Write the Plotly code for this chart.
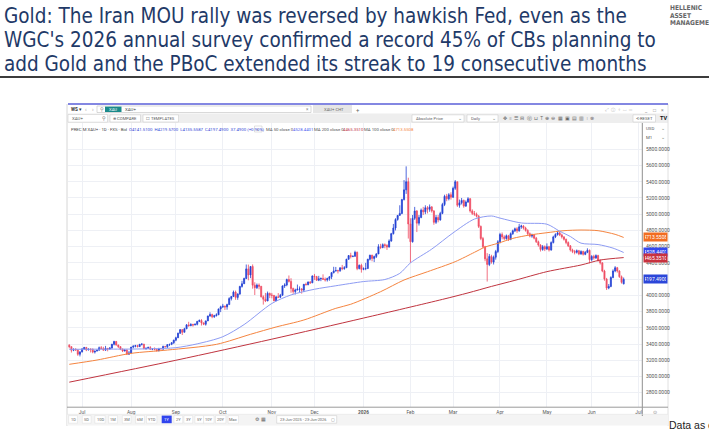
import plotly.graph_objects as go
import pandas as pd

W, H = 709, 433

# ---------------- data ----------------
dates = [d.strftime("%Y-%m-%d") for d in pd.bdate_range("2025-06-23", "2026-06-22")]
axis_dates = [d.strftime("%Y-%m-%d") for d in pd.bdate_range("2025-06-23", "2026-07-03")]

first_open = 3385.0
open_overrides = {"2026-06-22": 4141.51}

close_jun25 = [3368, 3323, 3332, 3328, 3274, 3303]
high_jun25 = [3398, 3370, 3348, 3350, 3330, 3310]
low_jun25 = [3347, 3295, 3312, 3315, 3255, 3247]

close_jul25 = [3338, 3357, 3326, 3337, 3336, 3301, 3313, 3324, 3355, 3343, 3324, 3347, 3339, 3350, 3397, 3431, 3387, 3368, 3337, 3314, 3326, 3274, 3290]
high_jul25 = [3350, 3365, 3365, 3345, 3343, 3345, 3317, 3330, 3369, 3375, 3366, 3377, 3346, 3361, 3402, 3440, 3438, 3393, 3373, 3345, 3334, 3334, 3315]
low_jul25 = [3296, 3328, 3312, 3323, 3296, 3286, 3283, 3310, 3321, 3341, 3320, 3319, 3310, 3331, 3345, 3383, 3382, 3351, 3325, 3301, 3309, 3268, 3268]

close_aug25 = [3363, 3373, 3380, 3368, 3397, 3398, 3341, 3348, 3356, 3335, 3336, 3332, 3315, 3347, 3339, 3371, 3365, 3393, 3397, 3416, 3448]
high_aug25 = [3363, 3385, 3390, 3391, 3398, 3410, 3402, 3356, 3369, 3374, 3345, 3358, 3336, 3351, 3351, 3379, 3376, 3393, 3398, 3423, 3453]
low_aug25 = [3281, 3347, 3359, 3359, 3368, 3382, 3341, 3332, 3346, 3331, 3324, 3323, 3311, 3312, 3335, 3321, 3360, 3351, 3375, 3386, 3401]

close_sep25 = [3477, 3533, 3578, 3545, 3587, 3636, 3626, 3641, 3634, 3643, 3679, 3690, 3660, 3644, 3685, 3746, 3763, 3736, 3749, 3760, 3833, 3858]
high_sep25 = [3490, 3540, 3578, 3563, 3600, 3646, 3674, 3657, 3650, 3655, 3685, 3703, 3707, 3667, 3688, 3749, 3791, 3774, 3760, 3779, 3835, 3872]
low_sep25 = [3435, 3475, 3525, 3511, 3545, 3587, 3614, 3620, 3614, 3633, 3630, 3670, 3628, 3633, 3627, 3686, 3736, 3718, 3722, 3740, 3758, 3793]

close_oct25 = [3866, 3857, 3886, 3960, 3985, 4040, 3975, 4018, 4110, 4143, 4208, 4326, 4251, 4356, 4125, 4095, 4126, 4112, 3982, 3952, 3930, 4025, 4002]
high_oct25 = [3895, 3875, 3897, 3977, 3991, 4059, 4059, 4022, 4117, 4179, 4218, 4380, 4379, 4359, 4381, 4161, 4146, 4147, 4114, 4000, 4030, 4047, 4033]
low_oct25 = [3844, 3820, 3823, 3885, 3937, 3980, 3945, 3945, 4005, 4095, 4141, 4200, 4185, 4212, 4082, 4004, 4078, 4074, 3974, 3886, 3917, 3935, 3966]

close_nov25 = [4000, 3932, 3980, 3977, 4001, 4116, 4128, 4195, 4172, 4084, 4046, 4066, 4078, 4078, 4065, 4136, 4131, 4165, 4155, 4239]
high_nov25 = [4030, 4001, 3994, 4028, 4018, 4122, 4149, 4206, 4245, 4211, 4095, 4082, 4133, 4110, 4090, 4140, 4157, 4170, 4175, 4245]
low_nov25 = [3963, 3929, 3931, 3970, 3967, 3996, 4091, 4112, 4158, 4032, 4019, 4011, 4061, 4039, 4021, 4040, 4123, 4125, 4140, 4150]

close_dec25 = [4231, 4186, 4204, 4208, 4198, 4190, 4208, 4228, 4280, 4300, 4305, 4303, 4339, 4330, 4340, 4445, 4490, 4480, 4482, 4530, 4330, 4370, 4320]
high_dec25 = [4264, 4240, 4240, 4220, 4259, 4220, 4218, 4237, 4285, 4352, 4350, 4316, 4345, 4375, 4360, 4450, 4497, 4525, 4490, 4550, 4540, 4380, 4390]
low_dec25 = [4190, 4180, 4175, 4175, 4190, 4170, 4170, 4180, 4200, 4270, 4295, 4270, 4290, 4310, 4315, 4340, 4440, 4455, 4470, 4475, 4310, 4320, 4280]

close_jan26 = [4330, 4330, 4445, 4495, 4455, 4478, 4510, 4600, 4590, 4625, 4615, 4595, 4670, 4760, 4830, 4935, 4985, 5010, 5180, 5300, 5400, 4880]
high_jan26 = [4345, 4400, 4450, 4500, 4500, 4490, 4520, 4630, 4635, 4640, 4640, 4630, 4690, 4770, 4880, 4950, 4990, 5110, 5190, 5420, 5590, 5450]
low_jan26 = [4310, 4310, 4330, 4430, 4420, 4410, 4460, 4510, 4570, 4580, 4580, 4560, 4590, 4660, 4750, 4800, 4920, 4990, 5000, 5170, 5250, 4700]

close_feb26 = [4660, 4950, 5040, 4890, 4960, 5050, 5030, 5080, 5060, 5090, 5040, 4900, 4960, 4930, 5010, 5120, 5220, 5190, 5240, 5210]
high_feb26 = [4950, 4990, 5090, 5050, 4990, 5070, 5090, 5110, 5100, 5120, 5100, 5050, 4990, 4990, 5030, 5140, 5240, 5250, 5260, 5270]
low_feb26 = [4400, 4650, 4930, 4780, 4860, 4950, 4990, 5000, 5010, 5030, 5020, 4870, 4880, 4900, 4920, 5000, 5100, 5160, 5170, 5180]

close_mar26 = [5320, 5400, 5110, 5140, 5170, 5100, 5150, 5190, 5040, 5010, 5000, 4975, 4850, 4700, 4600, 4450, 4380, 4480, 4410, 4470, 4540, 4660]
high_mar26 = [5340, 5421, 5400, 5180, 5200, 5180, 5170, 5210, 5200, 5060, 5040, 5020, 4990, 4860, 4720, 4610, 4520, 4510, 4500, 4490, 4560, 4680]
low_mar26 = [5200, 5300, 5090, 5080, 5120, 5080, 5090, 5140, 5020, 4990, 4980, 4960, 4830, 4680, 4580, 4420, 4170, 4360, 4390, 4380, 4440, 4520]

close_apr26 = [4750, 4720, 4700, 4735, 4690, 4760, 4795, 4820, 4795, 4845, 4855, 4830, 4800, 4760, 4730, 4745, 4705, 4660, 4620, 4565, 4600, 4570]
high_apr26 = [4770, 4775, 4740, 4750, 4745, 4775, 4810, 4835, 4840, 4880, 4870, 4865, 4845, 4815, 4775, 4760, 4755, 4720, 4675, 4630, 4620, 4615]
low_apr26 = [4640, 4690, 4680, 4685, 4670, 4680, 4745, 4780, 4770, 4785, 4820, 4810, 4785, 4740, 4715, 4710, 4690, 4645, 4600, 4540, 4550, 4545]

close_may26 = [4600, 4560, 4650, 4720, 4750, 4770, 4745, 4720, 4690, 4650, 4610, 4560, 4540, 4530, 4550, 4510, 4540, 4505, 4530, 4555, 4440]
high_may26 = [4640, 4610, 4665, 4735, 4765, 4795, 4785, 4760, 4730, 4700, 4665, 4620, 4575, 4560, 4565, 4560, 4555, 4550, 4545, 4580, 4565]
low_may26 = [4560, 4540, 4550, 4640, 4705, 4735, 4730, 4700, 4675, 4630, 4595, 4540, 4520, 4505, 4515, 4495, 4500, 4490, 4495, 4520, 4395]

close_jun26 = [4480, 4460, 4490, 4430, 4400, 4300, 4200, 4090, 4110, 4220, 4300, 4340, 4300, 4230, 4160, 4197.49]
high_jun26 = [4495, 4500, 4505, 4500, 4445, 4410, 4315, 4215, 4140, 4235, 4320, 4360, 4350, 4310, 4245, 4219.57]
low_jun26 = [4420, 4440, 4450, 4415, 4380, 4285, 4180, 4066, 4075, 4100, 4210, 4285, 4280, 4215, 4145, 4135.56]

closes = (close_jun25 + close_jul25 + close_aug25 + close_sep25 + close_oct25 + close_nov25 + close_dec25
          + close_jan26 + close_feb26 + close_mar26 + close_apr26 + close_may26 + close_jun26)
highs_raw = (high_jun25 + high_jul25 + high_aug25 + high_sep25 + high_oct25 + high_nov25 + high_dec25
             + high_jan26 + high_feb26 + high_mar26 + high_apr26 + high_may26 + high_jun26)
lows_raw = (low_jun25 + low_jul25 + low_aug25 + low_sep25 + low_oct25 + low_nov25 + low_dec25
            + low_jan26 + low_feb26 + low_mar26 + low_apr26 + low_may26 + low_jun26)

# moving averages
ma50_dates = ["2025-06-23", "2025-07-15", "2025-08-01", "2025-08-15", "2025-09-01", "2025-09-15", "2025-10-01",
              "2025-10-15", "2025-11-03", "2025-11-14", "2025-12-01", "2025-12-15", "2026-01-01", "2026-01-15",
              "2026-01-26", "2026-02-02", "2026-02-16", "2026-03-02", "2026-03-16", "2026-03-26", "2026-04-01",
              "2026-04-15", "2026-05-01", "2026-05-11", "2026-05-18", "2026-05-25", "2026-06-04", "2026-06-15",
              "2026-06-22"]
ma50_vals = [3335, 3337, 3338, 3342, 3355, 3402, 3490, 3640, 3900, 4005, 4075, 4118, 4170, 4195, 4271, 4400,
             4570, 4770, 4940, 4978, 4952, 4892, 4877, 4790, 4725, 4643, 4626, 4582, 4528.44]

ma100_dates = ["2025-06-23", "2025-07-10", "2025-08-01", "2025-08-26", "2025-09-26", "2025-10-20", "2025-11-05",
               "2025-11-24", "2025-12-15", "2025-12-24", "2026-01-13", "2026-01-28", "2026-02-12", "2026-03-03",
               "2026-03-16", "2026-03-23", "2026-03-31", "2026-04-09", "2026-04-21", "2026-05-01", "2026-05-13",
               "2026-05-25", "2026-06-04", "2026-06-16", "2026-06-22"]
ma100_vals = [3150, 3203, 3285, 3326, 3396, 3520, 3610, 3696, 3840, 3890, 4045, 4189, 4291, 4415, 4530, 4595,
              4641, 4702, 4744, 4772, 4797, 4805, 4797, 4752, 4713.55]

ma200_dates = ["2025-06-23", "2025-09-01", "2025-11-03", "2026-01-01", "2026-02-23", "2026-03-11", "2026-03-26",
               "2026-04-10", "2026-05-01", "2026-05-25", "2026-06-05", "2026-06-22"]
ma200_vals = [2930, 3200, 3460, 3720, 3950, 4030, 4110, 4185, 4292, 4374, 4435, 4465.35]

month_labels = ["Jul", "Aug", "Sep", "Oct", "Nov", "Dec", "<b>2026</b>", "Feb", "Mar", "Apr", "May", "Jun", "Jul"]
month_keys = ["2025-07", "2025-08", "2025-09", "2025-10", "2025-11", "2025-12", "2026-01", "2026-02", "2026-03",
              "2026-04", "2026-05", "2026-06", "2026-07"]
price_ticks = [2800, 3000, 3200, 3400, 3600, 3800, 4000, 4400, 4600, 4800, 5000, 5200, 5400, 5600, 5800]
hidden_grid = [4200]  # gridline whose label is covered by the last-price tag
price_labels = [(4713.5508, "#f26d21"), (4528.4401, "#3447ee"), (4465.3510, "#c8313f"), (4197.49, "#2b46d9")]

# ---------------- derived ----------------
assert len(closes) == len(dates) == len(highs_raw) == len(lows_raw)
opens = [first_open] + closes[:-1]
for i, d in enumerate(dates):
    if d in open_overrides:
        opens[i] = open_overrides[d]
highs = [max(h, o, c) for h, o, c in zip(highs_raw, opens, closes)]
lows = [min(l, o, c) for l, o, c in zip(lows_raw, opens, closes)]
xi = list(range(len(dates)))
pos = {d: i for i, d in enumerate(axis_dates)}
tick_pos = [next(i for i, d in enumerate(axis_dates) if d.startswith(k)) for k in month_keys]

UP = "#2442d4"
DN = "#ef4d63"
C50 = "#8d9bf3"
C100 = "#f5843f"
C200 = "#c0343f"
GRID = "#eef0f5"
TFONT = "DejaVu Sans Condensed, Liberation Sans Narrow, Arial Narrow, Roboto, sans-serif"

fig = go.Figure()
fig.add_trace(go.Candlestick(
    x=xi, open=opens, high=highs, low=lows, close=closes,
    increasing=dict(line=dict(color=UP, width=0.8), fillcolor=UP),
    decreasing=dict(line=dict(color=DN, width=0.8), fillcolor=DN),
    whiskerwidth=0, hoverinfo="skip", showlegend=False))
for dts, vals, col in [(ma100_dates, ma100_vals, C100), (ma200_dates, ma200_vals, C200), (ma50_dates, ma50_vals, C50)]:
    fig.add_trace(go.Scatter(x=[pos[d] for d in dts], y=vals, mode="lines",
                             line=dict(color=col, width=1, shape="spline", smoothing=0.8),
                             hoverinfo="skip", showlegend=False))

shapes = []
ann = []


def rect(x0, y0, x1, y1, fill, line=None, lw=1, layer="below"):
    shapes.append(dict(type="rect", xref="paper", yref="paper", x0=x0 / W, x1=x1 / W, y0=1 - y1 / H, y1=1 - y0 / H,
                       fillcolor=fill, line=dict(color=line if line else "rgba(0,0,0,0)", width=lw if line else 0),
                       layer=layer))


def hline(x0, x1, y, color, w=1, layer="above"):
    shapes.append(dict(type="line", xref="paper", yref="paper", x0=x0 / W, x1=x1 / W, y0=1 - y / H, y1=1 - y / H,
                       line=dict(color=color, width=w), layer=layer))


def vline(x, y0, y1, color, w=1, layer="above"):
    shapes.append(dict(type="line", xref="paper", yref="paper", x0=x / W, x1=x / W, y0=1 - y0 / H, y1=1 - y1 / H,
                       line=dict(color=color, width=w), layer=layer))


def text(x, y, s, size=4.6, color="#555", anchor="left", family="Roboto", bg=None):
    d = dict(x=x / W, y=1 - y / H, xref="paper", yref="paper", text=s, showarrow=False, xanchor=anchor,
             yanchor="middle", font=dict(size=size, color=color, family=family), borderpad=0)
    if bg:
        d["bgcolor"] = bg
    ann.append(d)


# ---- slide title ----
TCOL = "#1f3a68"
for yy, s in [(16.5, "Gold: The Iran MOU rally was reversed by hawkish Fed, even as the"),
              (40.5, "WGC's 2026 annual survey confirmed a record 45% of CBs planning to"),
              (64, "add Gold and the PBoC extended its streak to 19 consecutive months")]:
    text(3, yy, s, size=20.5, color=TCOL, family=TFONT)
hline(0, 709, 77, "#3c3c3c", 2)
for yy, s in [(8, "HELLENIC"), (15.6, "ASSET"), (23.2, "MANAGEMENT")]:
    text(669, yy, "<b>" + s + "</b>", size=6.6, color="#666", family=TFONT)

# ---- TradingView window frame ----
hline(68, 668, 104, "#5a5fd8", 1.6)
rect(68, 113.5, 668, 123, "#eeeeee")
vline(67, 104, 426, "#d6d6d6", 1, "below")
vline(668, 104, 426, "#e0e0e0", 1, "below")
# row 1
text(70, 109, "<b>WS</b> ▾", 4.6, "#333")
text(84, 109, "‹", 5.5, "#999")
text(91, 109, "›", 5.5, "#999")
rect(97, 106, 311, 112.5, "white", "#c9c9c9", 0.7)
text(99, 109.2, "⚲", 5, "#777")
rect(105, 106.6, 121.5, 112, "#1a8a8a")
text(113.2, 109.3, "XAU", 4.2, "white", "center")
text(124, 109.3, "XAU+", 4.4, "#444")
text(307, 109.3, "×", 4.6, "#888", "center")
rect(313, 105, 352, 113, "#e6e6e6")
text(323, 109.3, "XAU+ CHT", 4.2, "#666")
text(358, 109.3, "+", 6, "#666", "center")
text(604, 109, "⤢  ⓘ  ⌖  ▭  ═", 4.6, "#b0b0b0")
text(646, 109.5, "_", 5, "#888", "center")
text(654, 109.5, "□", 5, "#888", "center")
text(662, 109.5, "×", 5, "#888", "center")
# row 2
rect(68, 114.5, 107.5, 122.2, "white", "#d0d0d0", 0.6)
text(71, 118.4, "XAU+", 4.4, "#555")
text(103.5, 118.4, "⚲", 5, "#666", "center")
rect(110, 114.8, 140.5, 122, "white", "#cfcfcf", 0.6)
text(125.2, 118.4, "⊕ COMPARE", 4.2, "#555", "center")
rect(143, 114.8, 178.5, 122, "white", "#cfcfcf", 0.6)
text(160.7, 118.4, "☐ TEMPLATES", 4.2, "#555", "center")
rect(412, 114.8, 464, 122, "white", "#cfcfcf", 0.6)
text(415, 118.4, "Absolute Price", 4.2, "#666")
text(460, 118.4, "⌄", 4.6, "#777", "center")
rect(467, 114.8, 498, 122, "white", "#cfcfcf", 0.6)
text(470, 118.4, "Daily", 4.2, "#666")
text(494, 118.4, "⌄", 4.6, "#777", "center")
text(502, 118.4, "✥  ≡  ☰  ⊟  ⓔ  ⊔  T  ⊕  ⊖  ▦  ▣  ▤  ▥  ǀ  ⊗", 4.6, "#666")
rect(633, 114.8, 655.5, 122, "white", "#cfcfcf", 0.6)
text(644.2, 118.4, "⟲ RESET", 4.2, "#555", "center")
text(663.5, 118.4, "<b>TV</b>", 5.5, "#111", "center")
# legend line
text(70, 129, "PREC M XAU+ · 1D · FXS · Bid", 4.3, "#444")
text(128, 129, "O4141.5100  H4219.5700  L4135.5587  C4197.4900  37.4900 (+0.90%)", 4.3, "#3348d6")
rect(254.5, 126, 262, 132, "white", "#cccccc", 0.6)
text(258.2, 129, "‹", 5, "#666", "center")
text(265, 129, "MA 50 close 0", 4.3, "#555")
text(292, 129, "4528.4401", 4.3, "#4a5cf0")
text(313, 129, "MA 200 close 0", 4.3, "#555")
text(342, 129, "4465.3510", 4.3, C200)
text(363, 129, "MA 100 close 0", 4.3, "#555")
text(392, 129, "4713.5508", 4.3, C100)
# right price scale header
text(645, 128, "USD", 4.4, "#555")
text(663, 128, "⌄", 4.6, "#777", "center")
text(645, 137, "M1", 4.4, "#555")
text(663, 137, "⌄", 4.6, "#777", "center")
vline(642.3, 123, 416, "#8f8f8f", 1)
hline(67, 668, 407.2, "#9a9a9a", 1)
text(655, 411.5, "⊙", 5, "#888", "center")

# price labels on the scale (placed at their values)
for val, col in price_labels:
    ann.append(dict(x=642.8 / W, y=val, xref="paper", yref="y", text=f"{val:.4f}", showarrow=False,
                    xanchor="left", yanchor="middle", font=dict(size=5, color="white", family="Roboto"),
                    bgcolor=col, borderpad=1.0, width=21))

# bottom toolbar
rect(67, 414.3, 668, 425.5, "#f4f4f4")
hline(67, 668, 414.3, "#e2e2e2", 0.6)
btns = [("1D", 73), ("5D", 86.7), ("10D", 100), ("1M", 113), ("3M", 126.7), ("6M", 140), ("YTD", 151.7),
        ("1Y", 166.7), ("2Y", 178.3), ("3Y", 188.3), ("5Y", 199.3), ("10Y", 208.8), ("20Y", 220.7), ("Max", 233.3)]
for lab, bx in btns:
    hw = 5.2 if len(lab) > 2 else 4.4
    if lab == "1Y":
        rect(bx - 5, 415.6, bx + 5, 423.2, "#3044ee")
        text(bx, 419.4, lab, 4.2, "white", "center")
    else:
        rect(bx - hw, 415.6, bx + hw, 423.2, "white", "#dddddd", 0.5)
        text(bx, 419.4, lab, 4.0, "#666", "center")
text(257.3, 419.4, "⚙", 5, "#666", "center")
text(263, 419.4, "▦", 5, "#666", "center")
rect(276.7, 415.6, 336.7, 423.2, "white", "#cccccc", 0.6)
text(279, 419.4, "23-Jun-2025 - 23-Jun-2026", 3.9, "#666")
text(332.5, 419.4, "▢", 4.4, "#777", "center")

text(668, 425, "Data as of", 10.5, "#222", family="Liberation Sans")

fig.update_layout(
    width=W, height=H, margin=dict(l=0, r=0, t=0, b=0),
    paper_bgcolor="white", plot_bgcolor="white", showlegend=False,
    shapes=shapes, annotations=ann,
    xaxis=dict(domain=[68 / W, 642 / W], range=[-0.6, 268.6], tickvals=tick_pos, ticktext=month_labels,
               showgrid=True, gridcolor=GRID, gridwidth=1, zeroline=False, showline=False, ticks="",
               tickfont=dict(size=4.8, color="#555", family="Roboto"), rangeslider=dict(visible=False),
               fixedrange=True, ticklabelstandoff=1),
    yaxis=dict(domain=[26 / H, 310 / H], range=[2624, 6124], side="right", tickvals=price_ticks,
               tickformat=".4f", showgrid=True, gridcolor=GRID, gridwidth=1, zeroline=False, showline=False,
               ticks="", tickfont=dict(size=5, color="#555", family="Roboto"), ticklabelstandoff=3,
               fixedrange=True,
               minor=dict(tickvals=hidden_grid, showgrid=True, gridcolor=GRID, gridwidth=1, ticks="")),
)
fig.write_html("out.html")
